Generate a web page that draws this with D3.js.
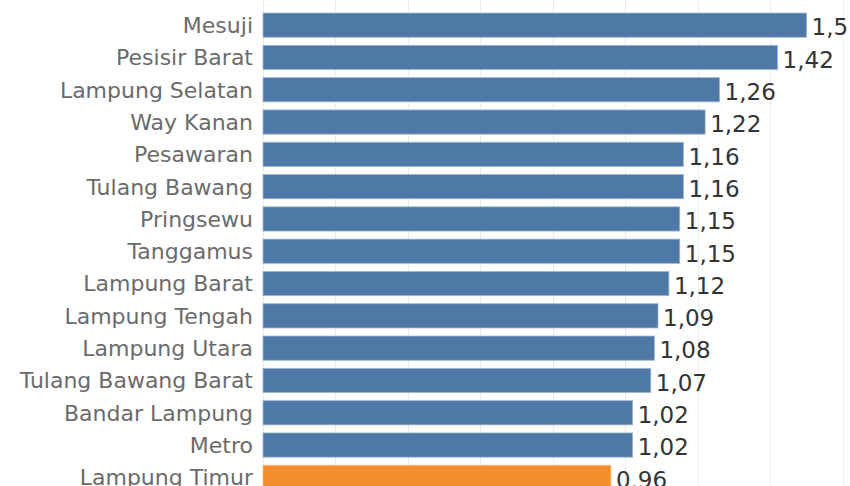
<!DOCTYPE html>
<html>
<head>
<meta charset="utf-8">
<script src="https://cdn.jsdelivr.net/npm/d3@7"></script>
<style>
  body { margin: 0; background: #fff; }
  svg { display: block; }
</style>
</head>
<body>
<svg id="chart1"></svg>
<script>
var regions = ["Mesuji", "Pesisir Barat", "Lampung Selatan", "Way Kanan", "Pesawaran",
    "Tulang Bawang", "Pringsewu", "Tanggamus", "Lampung Barat", "Lampung Tengah",
    "Lampung Utara", "Tulang Bawang Barat", "Bandar Lampung", "Metro", "Lampung Timur"];
var values = [1.5, 1.42, 1.26, 1.22, 1.16, 1.16, 1.15, 1.15, 1.12, 1.09, 1.08, 1.07, 1.02, 1.02, 0.96];
var highlight = "Lampung Timur";
var gridTicks = [0, 0.2, 0.4, 0.6, 0.8, 1.0, 1.2, 1.4, 1.6];

var dimensions = {
    width: 850,
    height: 486,
    margin: { top: 9, left: 263, right: 0 },
    step: 32.3
}

var dataset = regions.map((r, i) => ({ region: r, value: values[i] }));

var svg = d3.select("#chart1")
    .attr("width", dimensions.width)
    .attr("height", dimensions.height);

var xScale = d3.scaleLinear()
    .domain([0, 1.6])
    .range([dimensions.margin.left, dimensions.margin.left + 1.6 * 362.4]);

var yScale = d3.scaleBand()
    .domain(regions)
    .range([dimensions.margin.top, dimensions.margin.top + dimensions.step * regions.length])
    .paddingInner(0.25)
    .paddingOuter(0.125);

// gridlines
svg.append("g")
    .selectAll("line")
    .data(gridTicks)
    .enter()
    .append("line")
    .attr("x1", d => Math.round(xScale(d)) + 0.5)
    .attr("x2", d => Math.round(xScale(d)) + 0.5)
    .attr("y1", 0)
    .attr("y2", dimensions.height)
    .attr("stroke", "#ebebeb")
    .attr("stroke-width", 1);

// bars
svg.append("g")
    .selectAll("rect")
    .data(dataset)
    .enter()
    .append("rect")
    .attr("x", xScale(0))
    .attr("y", d => yScale(d.region))
    .attr("width", d => xScale(d.value) - xScale(0))
    .attr("height", yScale.bandwidth())
    .attr("fill", d => d.region === highlight ? "#f28e2b" : "#4e79a7")
    .attr("stroke", d => d.region === highlight ? "#f7bb80" : "#9fb6cf")
    .attr("stroke-width", 0.8);

// category labels
svg.append("g")
    .selectAll("text")
    .data(dataset)
    .enter()
    .append("text")
    .attr("x", xScale(0) - 10)
    .attr("y", d => yScale(d.region) + yScale.bandwidth() / 2)
    .attr("dy", "0.36em")
    .attr("text-anchor", "end")
    .attr("fill", "#6b6b6b")
    .style("font-family", "'DejaVu Sans', sans-serif")
    .style("font-size", "22px")
    .text(d => d.region);

// value labels
var fmt = d => String(d).replace(".", ",");
svg.append("g")
    .selectAll("text")
    .data(dataset)
    .enter()
    .append("text")
    .attr("x", d => xScale(d.value) + 5)
    .attr("y", d => yScale(d.region) + yScale.bandwidth() / 2 + 2)
    .attr("dy", "0.36em")
    .attr("fill", "#333333")
    .style("font-family", "'DejaVu Sans', sans-serif")
    .style("font-size", "23px")
    .text(d => fmt(d.value));
</script>
</body>
</html>
